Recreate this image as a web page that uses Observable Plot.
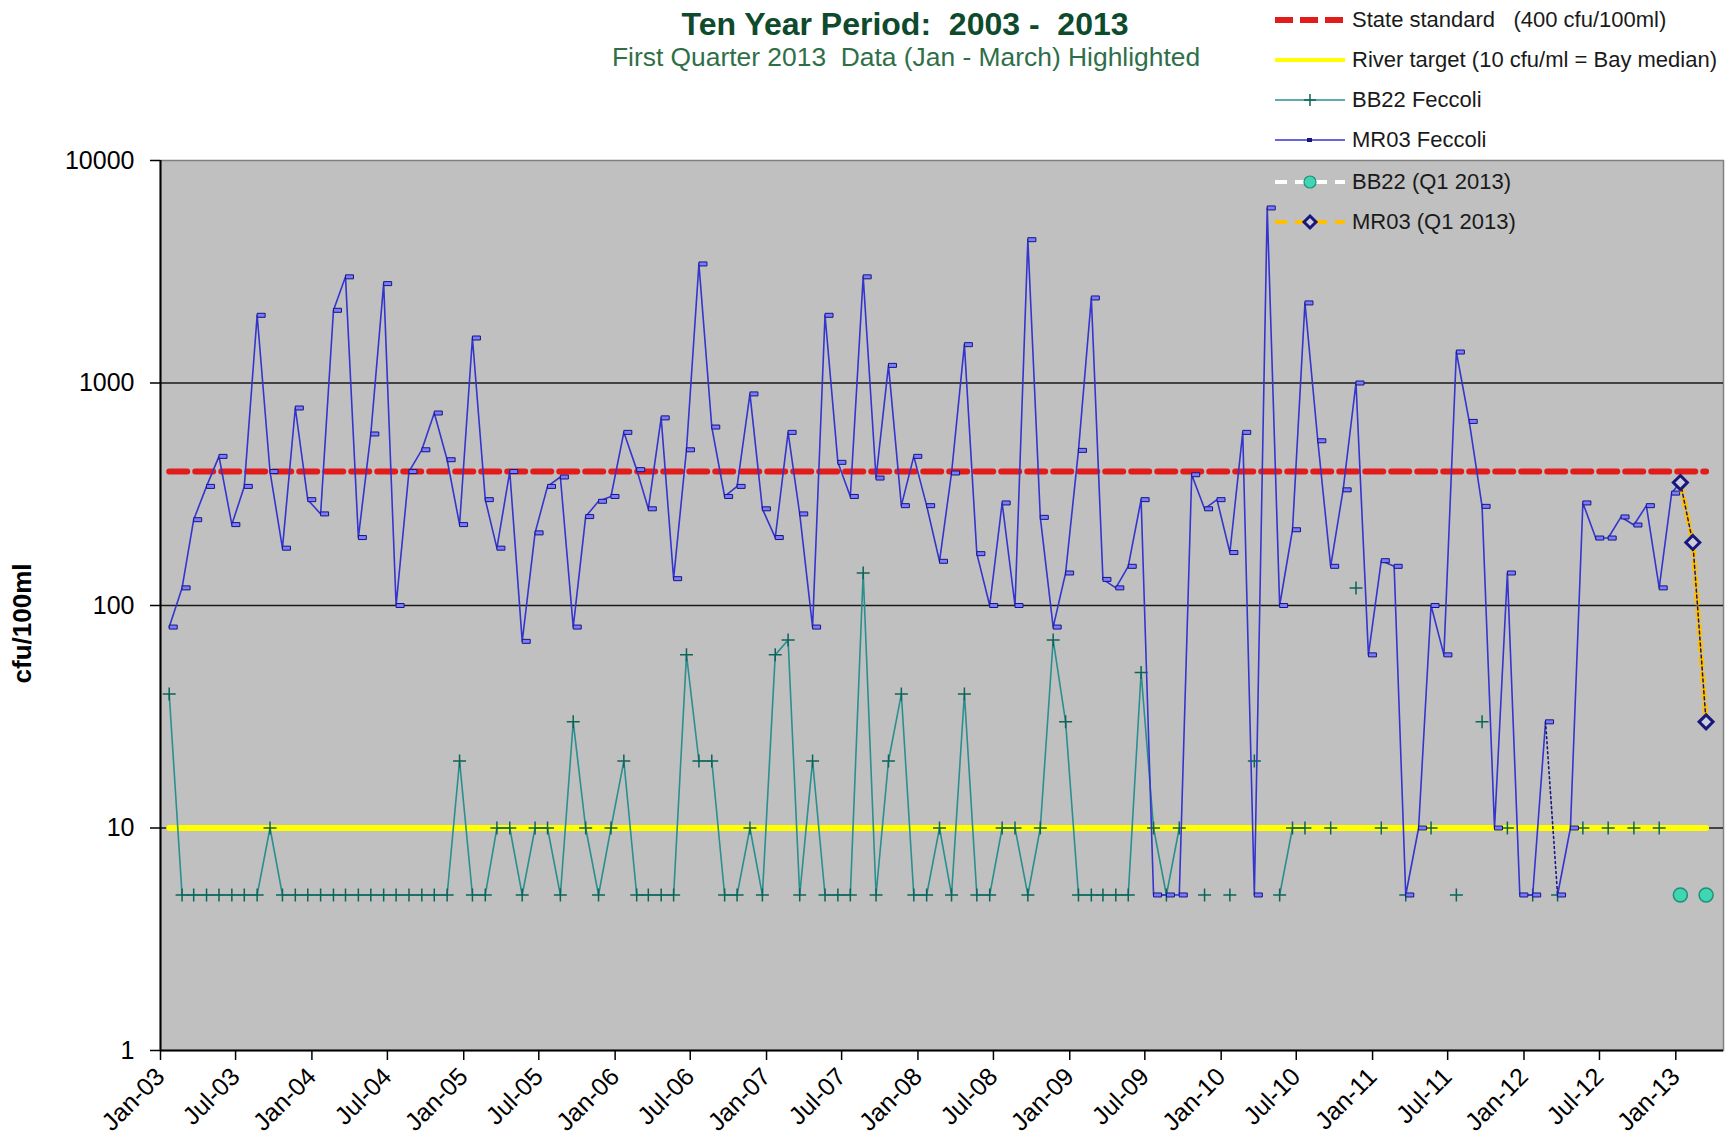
<!DOCTYPE html>
<html><head><meta charset="utf-8">
<script src="https://cdn.jsdelivr.net/npm/d3@7"></script>
<script src="https://cdn.jsdelivr.net/npm/@observablehq/plot@0.6"></script>
<style>
body{margin:0;background:#fff;font-family:"Liberation Sans",Arial,sans-serif;}
#wrap{position:relative;width:1727px;height:1147px;overflow:hidden;background:#fff;}
#chart{position:absolute;left:0;top:0;}
.ttl{position:absolute;white-space:pre;transform:translateX(-50%);}
#t1{left:905px;top:8px;font-size:32px;line-height:32px;font-weight:bold;color:#0e4a2c;}
#t2{left:906px;top:44px;font-size:26.4px;line-height:26px;color:#2f6f48;}
.lrow{position:absolute;left:1275px;height:26px;display:flex;align-items:center;white-space:pre;font-size:22px;color:#1a1a1a;}
.lrow svg{margin-right:5px;}
</style></head><body>
<div id="wrap">
  <div id="chart"></div>
  <div class="ttl" id="t1"></div>
  <div class="ttl" id="t2"></div>
  <div id="legend"></div>
</div>
<script>
// ---------- data ----------
const titleText = "Ten Year Period:  2003 -  2013";
const subtitleText = "First Quarter 2013  Data (Jan - March) Highlighted";
const yLabel = "cfu/100ml";

const sampleDates = [
"2003-01-22","2003-02-22","2003-03-22","2003-04-22","2003-05-22","2003-06-22","2003-07-22","2003-08-22","2003-09-22","2003-10-22","2003-11-22","2003-12-22",
"2004-01-22","2004-02-22","2004-03-22","2004-04-22","2004-05-22","2004-06-22","2004-07-22","2004-08-22","2004-09-22","2004-10-22","2004-11-22","2004-12-22",
"2005-01-22","2005-02-22","2005-03-22","2005-04-22","2005-05-22","2005-06-22","2005-07-22","2005-08-22","2005-09-22","2005-10-22","2005-11-22","2005-12-22",
"2006-01-22","2006-02-22","2006-03-22","2006-04-22","2006-05-22","2006-06-22","2006-07-22","2006-08-22","2006-09-22","2006-10-22","2006-11-22","2006-12-22",
"2007-01-22","2007-02-22","2007-03-22","2007-04-22","2007-05-22","2007-06-22","2007-07-22","2007-08-22","2007-09-22","2007-10-22","2007-11-22","2007-12-22",
"2008-01-22","2008-02-22","2008-03-22","2008-04-22","2008-05-22","2008-06-22","2008-07-22","2008-08-22","2008-09-22","2008-10-22","2008-11-22","2008-12-22",
"2009-01-22","2009-02-22","2009-03-22","2009-04-22","2009-05-22","2009-06-22","2009-07-22","2009-08-22","2009-09-22","2009-10-22","2009-11-22","2009-12-22",
"2010-01-22","2010-02-22","2010-03-22","2010-04-22","2010-05-22","2010-06-22","2010-07-22","2010-08-22","2010-09-22","2010-10-22","2010-11-22","2010-12-22",
"2011-01-22","2011-02-22","2011-03-22","2011-04-22","2011-05-22","2011-06-22","2011-07-22","2011-08-22","2011-09-22","2011-10-22","2011-11-22","2011-12-22",
"2012-01-22","2012-02-22","2012-03-22","2012-04-22","2012-05-22","2012-06-22","2012-07-22","2012-08-22","2012-09-22","2012-10-22","2012-11-22","2012-12-22"
];

const mr03 = [
80,120,243,343,468,231,343,2015,400,181,772,299,
258,2122,3000,202,590,2797,100,400,501,733,452,231,
1593,299,181,400,69,212,343,378,80,251,294,309,
600,408,272,697,132,501,3428,634,309,343,893,272,
202,600,258,80,2015,440,309,3000,374,1200,281,468,
281,158,394,1487,171,100,289,100,4406,249,80,140,
498,2411,131,120,150,299,5,5,5,387,272,299,
173,600,5,6120,100,219,2290,550,150,331,1000,60,
159,150,5,10,100,60,1378,672,279,10,140,5,
5,30,5,10,289,201,201,250,230,281,120,320
];

const bb22 = [
40,5,5,5,5,5,5,5,10,5,5,5,
5,5,5,5,5,5,5,5,5,5,5,20,
5,5,10,10,5,10,10,5,30,10,5,10,
20,5,5,5,5,60,20,20,5,5,10,5,
60,70,5,20,5,5,5,140,5,20,40,5,
5,10,5,40,5,5,10,10,5,10,70,30,
5,5,5,5,5,50,10,5,10,null,5,null,
5,null,20,null,5,10,10,null,10,null,120,null,
10,null,5,null,10,null,5,null,30,null,10,null,
5,null,5,null,10,null,10,null,10,null,10,null
];

const q1Dates = ["2013-01-12","2013-02-11","2013-03-15"];
const mr03Q1 = [357,192,30];
const bb22Q1Dates = ["2013-01-12","2013-03-15"];
const bb22Q1 = [5,5];

const stateStandard = 400;
const riverTarget = 10;
const gridValues = [10,100,1000];
const mr03DottedFrom = "2012-02-22"; // segment to next sample drawn dotted

const yTicks = [1,10,100,1000,10000];
const yTickLabels = ["1","10","100","1000","10000"];
const xTickDates = ["2003-01-01","2003-07-01","2004-01-01","2004-07-01","2005-01-01","2005-07-01","2006-01-01","2006-07-01","2007-01-01","2007-07-01","2008-01-01","2008-07-01","2009-01-01","2009-07-01","2010-01-01","2010-07-01","2011-01-01","2011-07-01","2012-01-01","2012-07-01","2013-01-01"];
const xTickLabels = ["Jan-03","Jul-03","Jan-04","Jul-04","Jan-05","Jul-05","Jan-06","Jul-06","Jan-07","Jul-07","Jan-08","Jul-08","Jan-09","Jul-09","Jan-10","Jul-10","Jan-11","Jul-11","Jan-12","Jul-12","Jan-13"];
const xDomain = ["2003-01-01","2013-04-26"];
const yDomain = [1,10000];

const legendLabels = ["State standard   (400 cfu/100ml)","River target (10 cfu/ml = Bay median)","BB22 Feccoli","MR03 Feccoli","BB22 (Q1 2013)","MR03 (Q1 2013)"];

// ---------- colours ----------
const C = {bg:"#c0c0c0", red:"#e21b1b", yellow:"#ffff00", teal:"#2b8f8f", tealMark:"#0d6458",
  blue:"#3434cf", blueFill:"#7b7bff", navy:"#16167e", orange:"#ffc000", aqua:"#3fd6b2", aquaStroke:"#1f8f7a"};

// ---------- tables ----------
const D = s => new Date(s);
const mrRows = sampleDates.map((d,i)=>({date:D(d), v:mr03[i]}));
const bbRows = sampleDates.map((d,i)=>({date:D(d), v: bb22[i]==null ? NaN : bb22[i]}));
const q1Rows = q1Dates.map((d,i)=>({date:D(d), v:mr03Q1[i]}));
const bbQ1Rows = bb22Q1Dates.map((d,i)=>({date:D(d), v:bb22Q1[i]}));
const k = sampleDates.indexOf(mr03DottedFrom);
const mrA = mrRows.slice(0,k+1);
const mrDot = mrRows.slice(k,k+2);
const mrB = mrRows.slice(k+1).concat([q1Rows[0]]);
const start = D(sampleDates[0]), end = D(q1Dates[q1Dates.length-1]);
const redRows = [{date:start,v:stateStandard},{date:end,v:stateStandard}];
const yelRows = [{date:start,v:riverTarget},{date:end,v:riverTarget}];
const xLab = new Map(xTickDates.map((d,i)=>[+D(d), xTickLabels[i]]));
const yLab = new Map(yTicks.map((d,i)=>[d, yTickLabels[i]]));

// ---------- symbols ----------
const dashMark = {draw(c){c.moveTo(0,-2);c.lineTo(8,-2);c.lineTo(8,2);c.lineTo(0,2);c.closePath();}};
const plusMark = {draw(c){c.moveTo(-6.5,0);c.lineTo(6.5,0);c.moveTo(0,-6.5);c.lineTo(0,6.5);}};
const diamondMark = {draw(c){c.moveTo(0,-7);c.lineTo(7,0);c.lineTo(0,7);c.lineTo(-7,0);c.closePath();}};

const chart = Plot.plot({
  width:1727, height:1147,
  marginLeft:160, marginRight:4, marginTop:160, marginBottom:97,
  style:{background:"transparent", fontFamily:"'Liberation Sans', Arial, sans-serif", color:"#000"},
  x:{type:"utc", domain:xDomain.map(D)},
  y:{type:"log", domain:yDomain},
  marks:[
    Plot.frame({fill:C.bg, stroke:"#808080", strokeWidth:1.5}),
    Plot.ruleY(gridValues, {stroke:"#1a1a1a", strokeWidth:1.5}),
    Plot.line(yelRows, {x:"date", y:"v", stroke:C.yellow, strokeWidth:6}),
    Plot.line(redRows, {x:"date", y:"v", stroke:C.red, strokeWidth:6, strokeDasharray:"18,8"}),
    Plot.line(bbRows, {x:"date", y:"v", stroke:C.teal, strokeWidth:1.6}),
    Plot.dot(bbRows.filter(d=>!isNaN(d.v)), {x:"date", y:"v", symbol:plusMark, fill:"none", stroke:C.tealMark, strokeWidth:1.5}),
    Plot.line(mrA, {x:"date", y:"v", stroke:C.blue, strokeWidth:1.6}),
    Plot.line(mrDot, {x:"date", y:"v", stroke:C.navy, strokeWidth:1.6, strokeDasharray:"2,3"}),
    Plot.line(mrB, {x:"date", y:"v", stroke:C.blue, strokeWidth:1.6}),
    Plot.dot(mrRows, {x:"date", y:"v", symbol:dashMark, fill:C.blueFill, stroke:C.navy, strokeWidth:1}),
    Plot.line(q1Rows, {x:"date", y:"v", stroke:C.orange, strokeWidth:5, strokeDasharray:"10,6"}),
    Plot.line(q1Rows, {x:"date", y:"v", stroke:C.navy, strokeWidth:1.5, strokeDasharray:"3,3"}),
    Plot.dot(q1Rows, {x:"date", y:"v", symbol:diamondMark, fill:"#cfcfdc", stroke:C.navy, strokeWidth:3}),
    Plot.dot(bbQ1Rows, {x:"date", y:"v", r:7, fill:C.aqua, stroke:C.aquaStroke, strokeWidth:1.5}),
    Plot.ruleX([start], {x: () => D(xDomain[0]), stroke:"#000", strokeWidth:2}),
    Plot.ruleY([yDomain[0]], {stroke:"#000", strokeWidth:2, x1: D(xDomain[0]), x2: D(xDomain[1])}),
    Plot.axisY({ticks:yTicks, tickFormat:d=>yLab.get(d), tickSize:10, tickPadding:16, fontSize:25, label:null, strokeWidth:1.5}),
    Plot.axisX({ticks:xTickDates.map(D), tickFormat:d=>xLab.get(+d), tickRotate:-45, tickSize:10, tickPadding:12, fontSize:25, label:null, strokeWidth:1.5}),
    Plot.text([yLabel], {text:d=>d, frameAnchor:"left", textAnchor:"middle", dx:-138, dy:18, rotate:-90, fontWeight:"bold", fontSize:26})
  ]
});
document.getElementById("chart").appendChild(chart);
document.getElementById("t1").textContent = titleText;
document.getElementById("t2").textContent = subtitleText;

// ---------- legend ----------
const sym = [
  `<line x1="0" y1="13" x2="70" y2="13" stroke="${C.red}" stroke-width="6" stroke-dasharray="18,7"/>`,
  `<line x1="0" y1="13" x2="70" y2="13" stroke="${C.yellow}" stroke-width="4"/>`,
  `<line x1="0" y1="13" x2="70" y2="13" stroke="${C.teal}" stroke-width="1.5"/><path d="M29,13H41M35,7V19" stroke="${C.tealMark}" stroke-width="1.5"/>`,
  `<line x1="0" y1="13" x2="70" y2="13" stroke="${C.blue}" stroke-width="1.5"/><rect x="32" y="11" width="5" height="4" fill="${C.navy}"/>`,
  `<line x1="0" y1="13" x2="70" y2="13" stroke="#fff" stroke-width="4" stroke-dasharray="12,8"/><circle cx="35" cy="13" r="6" fill="${C.aqua}" stroke="${C.aquaStroke}" stroke-width="1.2"/>`,
  `<line x1="0" y1="13" x2="70" y2="13" stroke="${C.orange}" stroke-width="4" stroke-dasharray="12,8"/><path d="M35,7L41,13L35,19L29,13Z" fill="#cfcfdc" stroke="${C.navy}" stroke-width="3"/>`
];
const legendY = [20,60,100,140,182,222];
const lg = document.getElementById("legend");
legendLabels.forEach((t,i)=>{
  const r = document.createElement("div");
  r.className = "lrow";
  r.style.top = (legendY[i]-13) + "px";
  r.innerHTML = `<svg width="72" height="26">${sym[i]}</svg><span></span>`;
  r.querySelector("span").textContent = t;
  lg.appendChild(r);
});
</script>
</body></html>
